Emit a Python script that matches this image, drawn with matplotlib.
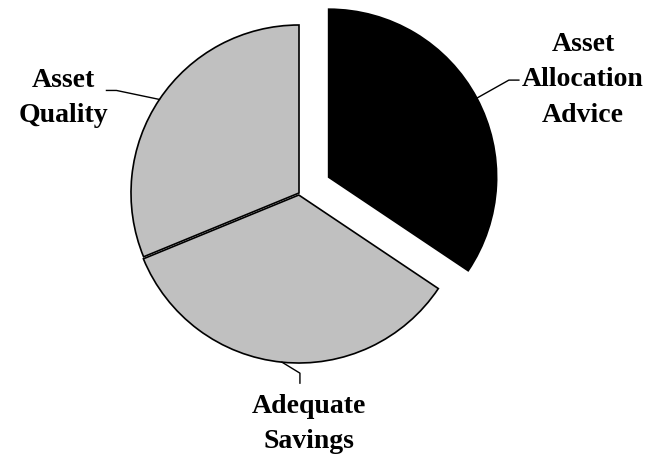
import numpy as np
import matplotlib
matplotlib.use("Agg")
import matplotlib.pyplot as plt

labels = ["Asset\nAllocation\nAdvice", "Adequate\nSavings", "Asset\nQuality"]
values = [34.4, 34.4, 31.2]
colors = ["#000000", "#c0c0c0", "#c0c0c0"]
explode = [0.2, 0.012, 0.0]

W, H = 651, 455
R = 168.0
CX, CY = 299.0, 193.0

fig = plt.figure(figsize=(W / 100, H / 100), dpi=100)
ax = fig.add_axes([0, 0, 1, 1])

wedges, _ = ax.pie(values, colors=colors, explode=explode, startangle=90,
                   counterclock=False, radius=1.0,
                   wedgeprops=dict(edgecolor="black", linewidth=1.2))

ax.set_xlim(-CX / R, (W - CX) / R)
ax.set_ylim(-(H - CY) / R, CY / R)
ax.set_aspect("equal")
ax.axis("off")

# leader lines and label positions (pixel offsets)
elbows = [((32, 18), (10, 0)), ((18, -11), (0, -10)), ((-43, 9), (-10, 0))]
text_px = [(583, 80), (309, 424), (63, 98)]
font = dict(family=["Liberation Serif", "DejaVu Serif"], fontweight="bold", fontsize=20)

for w, (e1, e2), (tx, ty), lab in zip(wedges, elbows, text_px, labels):
    ang = np.deg2rad((w.theta1 + w.theta2) / 2)
    cx, cy = w.center
    px = cx + w.r * np.cos(ang)
    py = cy + w.r * np.sin(ang)
    x1 = px + e1[0] / R
    y1 = py + e1[1] / R
    x2 = x1 + e2[0] / R
    y2 = y1 + e2[1] / R
    ax.plot([px, x1, x2], [py, y1, y2], color="black", lw=1.0)
    ax.text((tx - CX) / R, (CY - ty) / R, lab, ha="center", va="center",
            linespacing=1.55, **font)

fig.savefig("out.png", dpi=100)
